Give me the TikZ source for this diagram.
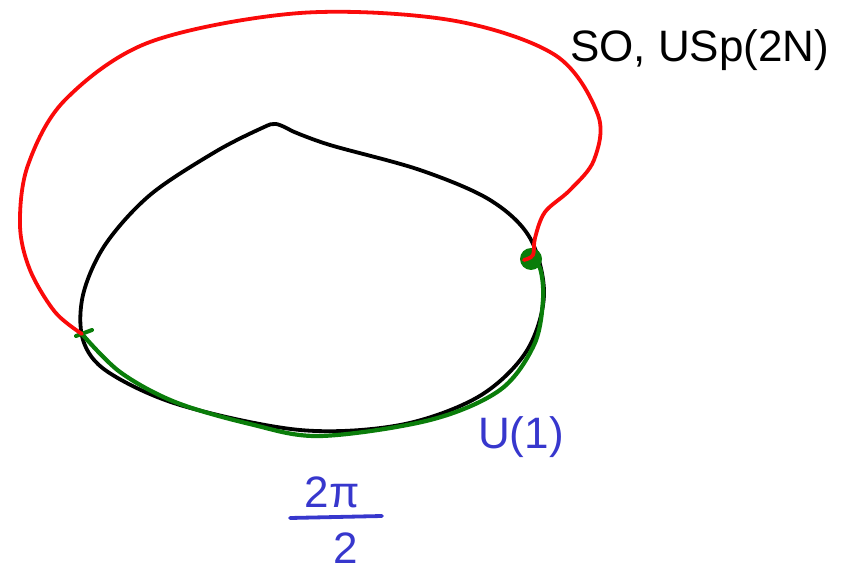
\documentclass[tikz,border=0pt]{standalone}
\usepackage{fontspec}
\setmainfont{Liberation Sans}
\usetikzlibrary{calc}
\definecolor{pen red}{RGB}{250,10,10}
\definecolor{pen green}{RGB}{10,125,10}
\definecolor{pen blue}{RGB}{55,55,205}
\tikzset{
  stroke/.style={line width=3.8pt, line cap=round, line join=round},
  lbl/.style={font=\fontsize{44}{48}\selectfont, inner sep=0pt},
}
\begin{document}
\begin{tikzpicture}[x=1pt,y=-1pt]
\useasboundingbox (0,0) rectangle (844,572);
\coordinate (L) at (82,334);
\coordinate (R) at (529,258);
% black loop
\draw[stroke, black] plot[smooth, tension=0.55] coordinates {
 (292,131) (276,124) (262,128) (215,152) (150,195) (105,245) (83,295) (83,340)
 (108,372) (180,405) (300,430) (400,425) (478,397) (526,352) (544,295)
 (530,238) (490,200) (420,170) (330,145) (292,131)};
% green arc
\draw[stroke, pen green, line width=4.2pt] plot[smooth, tension=0.55] coordinates {
 (L) (120,372) (175,402) (250,424) (320,436) (430,420) (500,390) (534,345) (543,300) (540,268) (R)};
\fill[pen green] (R) ++(2,1) circle[radius=11];
\draw[pen green, line width=4pt, line cap=round] (L) ++(-6,2) -- ++(16,-6);
% red arc
\draw[stroke, pen red] plot[smooth, tension=0.55] coordinates {
 (L) (55,312) (30,270) (20,225) (28,165) (65,100) (150,42) (300,13) (450,20)
 (555,55) (598,115) (594,160) (570,190) (545,212) (535,238) (533,255) (524,260)};
% labels
\node[lbl, anchor=west] (g) at (570,50) {SO, USp(2N)};
\node[lbl, text=pen blue, anchor=west] (u) at (478,437) {U(1)};
\node[lbl, text=pen blue] (num) at (332,492) {2π};
\node[lbl, text=pen blue] (den) at (346,548) {2};
\coordinate (fl) at (290,518);
\coordinate (fr) at (382,516);
\draw[stroke, pen blue] (fl) -- (fr);
\end{tikzpicture}
\end{document}
